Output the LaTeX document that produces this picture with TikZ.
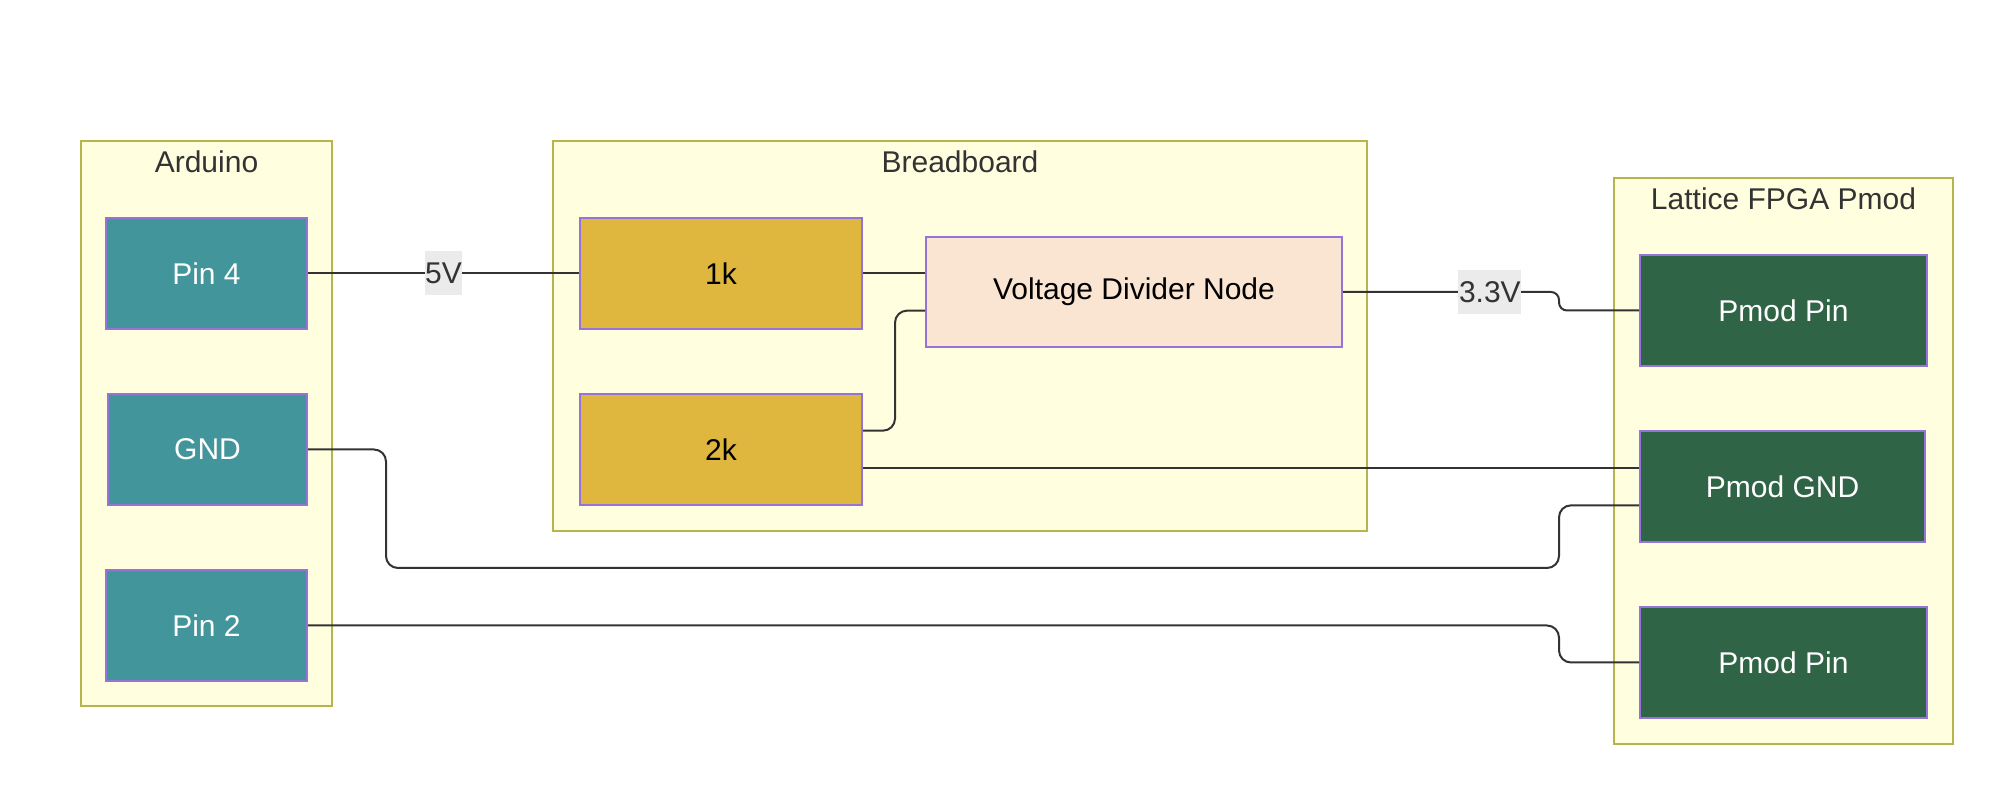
\documentclass[tikz,border=0pt]{standalone}
\usepackage{fontspec}
\setmainfont{Liberation Sans}
\usepackage{xcolor}
\usepackage{tikz}
\usetikzlibrary{positioning,calc}

\definecolor{boardfill}{HTML}{FFFFE0}
\definecolor{boardline}{HTML}{B5B54C}
\definecolor{pinteal}{HTML}{42959A}
\definecolor{boxline}{HTML}{9673D6}
\definecolor{resgold}{HTML}{E0B73E}
\definecolor{nodepeach}{HTML}{FAE5D3}
\definecolor{pmodgreen}{HTML}{306446}
\definecolor{wiregray}{HTML}{333333}
\definecolor{labelbg}{HTML}{EBEBEB}

\begin{document}
\begin{tikzpicture}[x=0.5pt, y=-0.5pt,
    txt/.style={font=\fontsize{15pt}{18pt}\selectfont},
    board/.style={draw=boardline, fill=boardfill, line width=1pt, inner sep=0pt},
    boardlabel/.style={txt, anchor=base, text=wiregray, inner sep=0pt},
    blockbox/.style={txt, draw=boxline, line width=1pt, minimum height=55.5pt, inner sep=0pt},
    pinbox/.style={blockbox, fill=pinteal, text=white, minimum width=100.5pt},
    resbox/.style={blockbox, fill=resgold, minimum width=141pt},
    pmodbox/.style={blockbox, fill=pmodgreen, text=white, minimum width=143.5pt},
    wire/.style={draw=wiregray, line width=1pt, rounded corners=6pt},
    wirelabel/.style={txt, sharp corners, fill=labelbg, text=wiregray, inner xsep=0.3pt, inner ysep=0pt, minimum height=22pt}]
    \useasboundingbox (0,0) rectangle (1998,806);

    % Arduino
    \node[board, minimum width=125.5pt, minimum height=282.5pt] (arduino) at (206.5,423.5) {};
    \node[boardlabel] (arduinolabel) at (206.5,173) {Arduino};
    \node[pinbox] (pin4) at (206.5,273.5) {Pin 4};
    \node[pinbox, minimum width=99.5pt] (gnd) at (207.5,449.5) {GND};
    \node[pinbox] (pin2) at (206.5,625.5) {Pin 2};

    % Breadboard
    \node[board, minimum width=407pt, minimum height=195pt] (breadboard) at (960,336) {};
    \node[boardlabel] (breadboardlabel) at (960,173) {Breadboard};
    \node[resbox] (r1k) at (721,273.5) {1k};
    \node[resbox] (r2k) at (721,449.5) {2k};
    \node[blockbox, fill=nodepeach, minimum width=208pt, minimum height=55pt] (divider) at (1134,292) {Voltage Divider Node};

    % Lattice FPGA
    \node[board, minimum width=169.5pt, minimum height=283pt] (fpga) at (1783.5,461) {};
    \node[boardlabel] (fpgalabel) at (1783.5,210) {Lattice FPGA Pmod};
    \node[pmodbox] (pmodpin) at (1783.5,310.5) {Pmod Pin};
    \node[pmodbox, minimum width=142.5pt] (pmodgnd) at (1782.5,486.5) {Pmod GND};
    \node[pmodbox] (pmodpin2) at (1783.5,662.5) {Pmod Pin};

    % Ports on the sides
    \coordinate (divin2) at ($(divider.north west)!2/3!(divider.south west)$);
    \coordinate (r2kout1) at ($(r2k.north east)!1/3!(r2k.south east)$);
    \coordinate (r2kout2) at ($(r2k.north east)!2/3!(r2k.south east)$);
    \coordinate (gndin2) at ($(pmodgnd.north west)!2/3!(pmodgnd.south west)$);
    \coordinate (gndbend) at (386,568);

    % Wires
    \draw[wire] (pin4.east) -- node[wirelabel] {5V} (r1k.west);
    \draw[wire] (r1k.east) -- (r1k.east -| divider.west);
    \draw[wire] (r2kout1) -- ++(32,0) |- (divin2);
    \draw[wire] (r2kout2) -- (r2kout2 -| pmodgnd.west);
    \draw[wire, rounded corners=4pt] (divider.east) -| node[wirelabel, pos=0.34] {3.3V} ([xshift=-40pt]pmodpin.west) -- (pmodpin.west);
    \draw[wire] (gnd.east) -| (gndbend) -| ([xshift=-40pt]gndin2) -- (gndin2);
    \draw[wire] (pin2.east) -| ([xshift=-40pt]pmodpin2.west) -- (pmodpin2.west);
\end{tikzpicture}
\end{document}
